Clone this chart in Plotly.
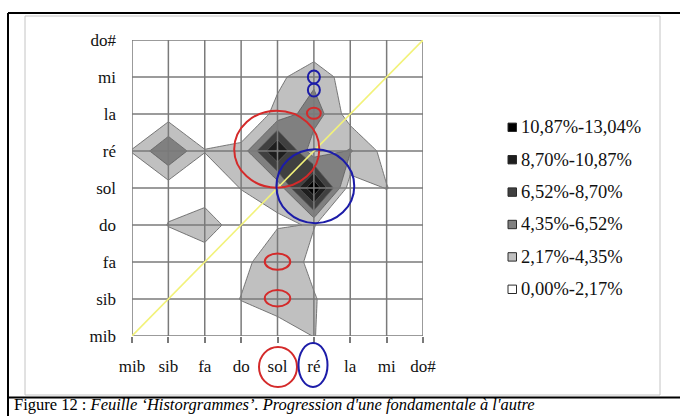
import plotly.graph_objects as go

# ---------------- data ----------------
notes = ["mib", "sib", "fa", "do", "sol", "ré", "la", "mi", "do#"]

# percentage of progressions, one list per row (y note), columns follow the x notes
row_mib = [0, 0, 0, 0, 0, 2.28, 0, 0, 0]
row_sib = [0, 0, 0, 2.28, 4.13, 2.39, 0, 0, 0]
row_fa  = [0, 0, 0, 1.30, 4.13, 1.41, 0, 0, 0]
row_do  = [0, 2.28, 4.13, 0, 1.96, 2.28, 0, 0, 0]
row_sol = [0, 1.02, 0, 2.28, 2.61, 13.04, 0.87, 2.28, 0]
row_re  = [2.28, 6.52, 2.28, 2.83, 11.30, 2.61, 4.57, 1.30, 0]
row_la  = [0, 1.02, 0, 0, 2.83, 5.65, 1.09, 0, 0]
row_mi  = [0, 0, 0, 0, 1.63, 3.70, 0.96, 0, 0]
row_dod = [0, 0, 0, 0, 0, 0, 0, 0, 0]

band_labels = ["10,87%-13,04%", "8,70%-10,87%", "6,52%-8,70%",
               "4,35%-6,52%", "2,17%-4,35%", "0,00%-2,17%"]

caption_plain = "Figure 12 : "
caption_italic = "Feuille ‘Historgrammes’. Progression d'une fondamentale à l'autre"

# ---------------- styles ----------------
band_fill = ["#ffffff", "#c0c0c0", "#808080", "#404040", "#1e1e1e", "#000000"]  # low -> high
legend_fill = list(reversed(band_fill))
SERIF = "Liberation Serif"

W, H = 680, 416
L, R, T, B = 132, 257, 40, 80
PW, PH = W - L - R, H - T - B


def px_x(px):
    return (px - L) / PW


def px_y(py):
    return (H - B - py) / PH


rows = [row_mib, row_sib, row_fa, row_do, row_sol, row_re, row_la, row_mi, row_dod]
zmax = max(max(r) for r in rows)
step = zmax / 6.0

fig = go.Figure()
fig.add_trace(go.Contour(
    x=notes, y=notes, z=rows,
    autocontour=False,
    contours=dict(start=step, end=5.5 * step, size=step, coloring="fill", showlines=True),
    colorscale=[[k / 5.0, c] for k, c in enumerate(band_fill)],
    line=dict(color="#5a5a5a", width=0.8, smoothing=0),
    showscale=False, hoverinfo="skip", showlegend=False,
))

shapes = []
annotations = []
n = len(notes)
# grid lines drawn over the contour fills
for k in range(n):
    shapes.append(dict(type="line", xref="x", yref="y", x0=k, x1=k, y0=0, y1=n - 1,
                       line=dict(color="#7a7a7a", width=1.5), layer="above"))
    shapes.append(dict(type="line", xref="x", yref="y", x0=0, x1=n - 1, y0=k, y1=k,
                       line=dict(color="#7a7a7a", width=1.5), layer="above"))
# yellow diagonal (identity)
shapes.append(dict(type="line", xref="x", yref="y", x0=0, y0=0, x1=n - 1, y1=n - 1,
                   line=dict(color="#f2f27a", width=1.6), layer="above"))

RED, BLUE = "#d42a2a", "#1c1ca8"


def ell(cx, cy, rx, ry, color, width=2):
    return dict(type="circle", xref="x", yref="y", x0=cx - rx, x1=cx + rx, y0=cy - ry, y1=cy + ry,
                line=dict(color=color, width=width), layer="above")


shapes += [
    ell(3.98, 5.05, 1.17, 1.04, RED),
    ell(5.04, 4.05, 1.07, 1.00, BLUE),
    ell(5.0, 7.0, 0.165, 0.176, BLUE),
    ell(5.0, 6.65, 0.165, 0.176, BLUE),
    ell(5.0, 6.02, 0.19, 0.15, RED),
    ell(4.0, 2.01, 0.35, 0.22, RED),
    ell(4.0, 1.02, 0.35, 0.22, RED),
]
# circles around the x tick labels "sol" and "ré"
for cx, cy, rx, ry, col in [(278, 367, 19, 20, RED), (313, 365, 14.5, 22, BLUE)]:
    shapes.append(dict(type="circle", xref="paper", yref="paper",
                       x0=px_x(cx - rx), x1=px_x(cx + rx), y0=px_y(cy + ry), y1=px_y(cy - ry),
                       line=dict(color=col, width=2)))

# legend (swatch + label)
leg_y0, leg_dy = 127.3, 32.4
for idx, (lab, col) in enumerate(zip(band_labels, legend_fill)):
    yc = leg_y0 + idx * leg_dy
    shapes.append(dict(type="rect", xref="paper", yref="paper",
                       x0=px_x(508), x1=px_x(516.5), y0=px_y(yc + 4.2), y1=px_y(yc - 4.2),
                       fillcolor=col, line=dict(color="#2a2a2a", width=1)))
    annotations.append(dict(xref="paper", yref="paper", x=px_x(518.5), y=px_y(yc),
                            xanchor="left", yanchor="middle", showarrow=False, text=lab,
                            font=dict(family=SERIF, size=18.5, color="#111111")))

# frames
shapes += [
    dict(type="rect", xref="paper", yref="paper", x0=px_x(25), x1=px_x(660), y0=px_y(395), y1=px_y(16),
         line=dict(color="#c4c4c4", width=1), layer="below"),
    dict(type="line", xref="paper", yref="paper", x0=px_x(8), x1=px_x(8), y0=px_y(416), y1=px_y(13),
         line=dict(color="#000000", width=2)),
    dict(type="line", xref="paper", yref="paper", x0=px_x(8), x1=px_x(681), y0=px_y(13), y1=px_y(13),
         line=dict(color="#000000", width=2)),
    dict(type="line", xref="paper", yref="paper", x0=px_x(8), x1=px_x(681), y0=px_y(397.5), y1=px_y(397.5),
         line=dict(color="#000000", width=2)),
]

annotations.append(dict(xref="paper", yref="paper", x=px_x(12), y=px_y(415.5), xanchor="left",
                        yanchor="bottom", showarrow=False,
                        text=caption_plain + "<i>" + caption_italic + "</i>",
                        font=dict(family=SERIF, size=16.5, color="#000000")))

axis_common = dict(type="category", range=[0, n - 1], showgrid=False, zeroline=False,
                   showline=False, fixedrange=True,
                   tickfont=dict(family=SERIF, size=17, color="#111111"))

fig.update_layout(
    width=W, height=H,
    margin=dict(l=L, r=R, t=T, b=B, autoexpand=False),
    paper_bgcolor="white", plot_bgcolor="white",
    xaxis=dict(**axis_common, ticks="outside", ticklen=6, tickwidth=1.5, tickcolor="#7a7a7a",
               ticklabelstandoff=9),
    yaxis=dict(**axis_common, ticks="", ticklabelstandoff=15),
    shapes=shapes,
    annotations=annotations,
    showlegend=False,
)

fig.write_html("out.html", config={"displayModeBar": False},
               post_script="document.body.style.margin='0';document.body.style.overflow='hidden';")
